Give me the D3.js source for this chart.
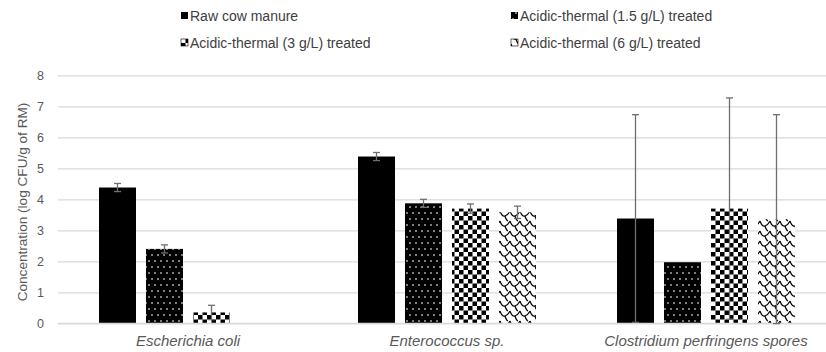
<!DOCTYPE html>
<html><head><meta charset="utf-8">
<script src="https://cdn.jsdelivr.net/npm/d3@7"></script>
<style>body{margin:0;background:#fff}svg{display:block;font-family:"Liberation Sans",Arial,sans-serif}</style>
</head><body><svg id="c" width="826" height="352"></svg>
<script>
const categories = ["Escherichia coli", "Enterococcus sp.", "Clostridium perfringens spores"];
const seriesNames = ["Raw cow manure", "Acidic-thermal (1.5 g/L) treated", "Acidic-thermal (3 g/L) treated", "Acidic-thermal (6 g/L) treated"];
const rawValues   = [4.38, 5.38, 3.38];
const rawErr      = [0.13, 0.13, 3.35];
const t15Values   = [2.40, 3.87, 1.97];
const t15Err      = [0.13, 0.13, 0];
const t3Values    = [0.35, 3.70, 3.70];
const t3Err       = [0.23, 0.15, 3.57];
const t6Values    = [0, 3.58, 3.36];
const t6Err       = [0, 0.20, 3.37];
const yTicks = [0,1,2,3,4,5,6,7,8];

const series = [
  {name: seriesNames[0], values: rawValues, err: rawErr, fill: "#000"},
  {name: seriesNames[1], values: t15Values, err: t15Err, fill: "url(#pDots)"},
  {name: seriesNames[2], values: t3Values, err: t3Err, fill: "url(#pCheck)"},
  {name: seriesNames[3], values: t6Values, err: t6Err, fill: "url(#pWave)"}
];

const svg = d3.select("#c");
const defs = svg.append("defs");
const pd = defs.append("pattern").attr("id","pDots").attr("patternUnits","userSpaceOnUse").attr("width",12).attr("height",12);
pd.append("rect").attr("width",12).attr("height",12).attr("fill","#000");
[[2,3],[8,3],[5,9],[11,9]].forEach(([x,y])=>pd.append("rect").attr("x",x-0.7).attr("y",y-0.7).attr("width",1.4).attr("height",1.4).attr("fill","#fff"));
const pc = defs.append("pattern").attr("id","pCheck").attr("patternUnits","userSpaceOnUse").attr("width",9).attr("height",9);
pc.append("rect").attr("width",9).attr("height",9).attr("fill","#fff");
pc.append("rect").attr("width",4.5).attr("height",4.5).attr("fill","#000");
pc.append("rect").attr("x",4.5).attr("y",4.5).attr("width",4.5).attr("height",4.5).attr("fill","#000");
const pw = defs.append("pattern").attr("id","pWave").attr("patternUnits","userSpaceOnUse").attr("width",10).attr("height",10);
pw.append("rect").attr("width",10).attr("height",10).attr("fill","#fff");
pw.append("path").attr("d","M0,1 Q2,7 5,6 Q8,5 10,1 M5,6 Q6,10 8,11 M-5,6 Q-4,10 -2,11 M5,-4 Q6,0 8,1")
  .attr("fill","none").attr("stroke","#000").attr("stroke-width",1.2);

const x0 = d3.scaleBand().domain(categories).range([58.5, 835.5]).paddingInner(0).paddingOuter(0);
const y = d3.scaleLinear().domain([0,8]).range([323.3, 75.3]);
const barW = 37, stride = 47;
const groupW = stride*3 + barW;

const grid = svg.append("g").call(d3.axisLeft(y).tickValues(yTicks).tickSize(-800).tickFormat(""))
  .attr("transform","translate(58,0)");
grid.select(".domain").remove();
grid.selectAll(".tick line").attr("stroke","#d9d9d9").attr("stroke-width",1.3);

const yAxis = svg.append("g").attr("transform","translate(44,0)")
  .call(d3.axisLeft(y).tickValues(yTicks).tickSize(0).tickPadding(0).tickFormat(d3.format("d")));
yAxis.select(".domain").remove();
yAxis.selectAll("text").attr("fill","#595959").attr("font-size",12.5).attr("font-family","Liberation Sans, Arial, sans-serif");

series.forEach((s,i)=>{
  const g = svg.append("g");
  categories.forEach((c,j)=>{
    const v = s.values[j];
    if (v <= 0) return;
    const bx = x0(c) + x0.bandwidth()/2 - groupW/2 + i*stride;
    g.append("rect").attr("x",bx).attr("y",y(v)).attr("width",barW).attr("height",y(0)-y(v)).attr("fill",s.fill);
  });
});
svg.append("line").attr("x1",58).attr("x2",826).attr("y1",y(0)).attr("y2",y(0)).attr("stroke","#d9d9d9").attr("stroke-width",1.3);
series.forEach((s,i)=>{
  categories.forEach((c,j)=>{
    const v = s.values[j], e = s.err[j];
    if (v <= 0 || e <= 0) return;
    const cx = x0(c) + x0.bandwidth()/2 - groupW/2 + i*stride + barW/2;
    const g = svg.append("g").attr("stroke","#6f6f6f").attr("stroke-width",1.3);
    g.append("line").attr("x1",cx).attr("x2",cx).attr("y1",y(v-e)).attr("y2",y(v+e));
    [v-e, v+e].forEach(t=>g.append("line").attr("x1",cx-3.5).attr("x2",cx+3.5).attr("y1",y(t)).attr("y2",y(t)));
  });
});

svg.append("g").selectAll("text").data(categories).join("text")
  .attr("x",d=>x0(d)+x0.bandwidth()/2).attr("y",346).attr("text-anchor","middle")
  .attr("font-size",15).attr("font-style","italic").attr("fill","#595959").text(d=>d);

svg.append("text").attr("transform","translate(27,202) rotate(-90)").attr("text-anchor","middle")
  .attr("font-size",13.6).attr("fill","#595959").text("Concentration (log CFU/g of RM)");

const legPos = [[181,16],[511,16],[181,43],[511,43]];
series.forEach((s,i)=>{
  const [lx,ly] = legPos[i];
  const g = svg.append("g").attr("transform",`translate(${lx},${ly})`);
  g.append("rect").attr("x",0).attr("y",-4).attr("width",7).attr("height",7).attr("fill",s.fill).attr("stroke", i>1?"#000":"none").attr("stroke-width",0.6);
  g.append("text").attr("x",9).attr("y",5).attr("font-size",14).attr("fill","#404040").text(s.name);
});
</script></body></html>
